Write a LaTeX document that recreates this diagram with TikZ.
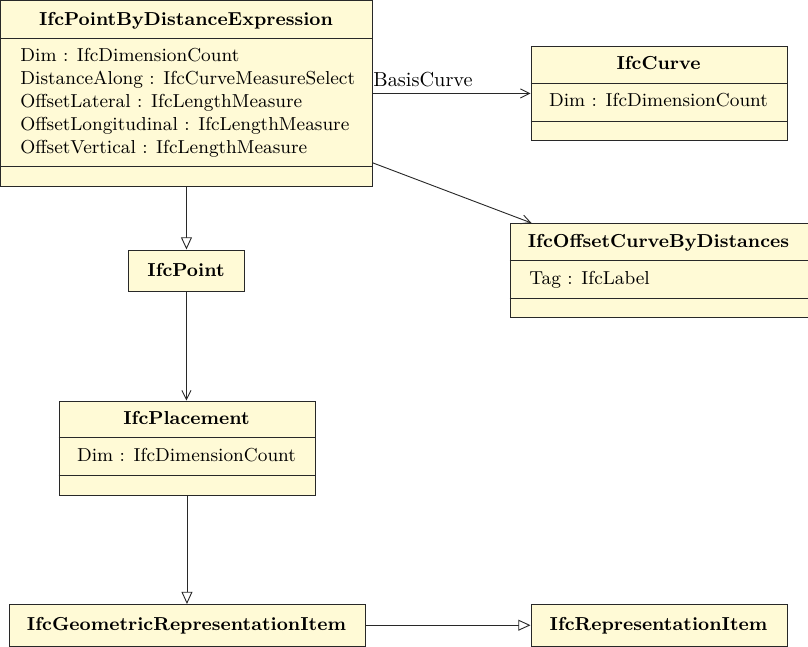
\documentclass[tikz,border=0pt]{standalone}
\usepackage{fontspec}
\setmainfont{Latin Modern Roman}
\usetikzlibrary{arrows.meta}
\definecolor{clsfill}{RGB}{255,250,214}
\definecolor{clsline}{RGB}{40,40,40}
\newlength\ux
\setlength\ux{0.4926pt}
\newcommand\clsfont{\fontsize{9.25}{11.3}\selectfont}
\tikzset{
  cls/.style={draw=clsline, fill=clsfill, line width=0.45pt, inner sep=0pt, anchor=north west, rectangle},
  sepline/.style={draw=clsline, line width=0.45pt},
  ttl/.style={font=\clsfont\bfseries, inner sep=0pt, anchor=base},
  att/.style={font=\clsfont, inner sep=0pt, anchor=base west},
  attc/.style={font=\clsfont, inner sep=0pt, anchor=base},
  conn/.style={draw=clsline, line width=0.45pt},
  assoc/.style={conn, -{Straight Barb[length=4.5pt,width=4.5pt,line width=0.45pt]}},
  gen/.style={conn, -{Triangle[open,length=6pt,width=5.4pt,fill=white,line width=0.45pt]}},
}
\begin{document}
\begin{tikzpicture}[x=\ux,y=-\ux]
\useasboundingbox (0,0) rectangle (808,646);
% IfcPointByDistanceExpression
\node[cls, minimum width=371.5\ux, minimum height=185.5\ux] (pbde) at (0.5,0.5) {};
\draw[sepline] (0.5,38) -- (372,38);
\draw[sepline] (0.5,166) -- (372,166);
\node[ttl] (pbdet) at (186,25) {IfcPointByDistanceExpression};
\node[att] (pbdea1) at (20,61.7) {Dim : IfcDimensionCount};
\node[att] (pbdea2) at (20,84.7) {DistanceAlong : IfcCurveMeasureSelect};
\node[att] (pbdea3) at (20,107.7) {OffsetLateral : IfcLengthMeasure};
\node[att] (pbdea4) at (20,130.7) {OffsetLongitudinal : IfcLengthMeasure};
\node[att] (pbdea5) at (20,153.7) {OffsetVertical : IfcLengthMeasure};
% IfcCurve
\node[cls, minimum width=256.5\ux, minimum height=94\ux] (curve) at (530.5,46) {};
\draw[sepline] (530.5,83.5) -- (787,83.5);
\draw[sepline] (530.5,121) -- (787,121);
\node[ttl] (curvet) at (658.5,69.5) {IfcCurve};
\node[attc] (curvea) at (658.5,106.7) {Dim : IfcDimensionCount};
% IfcOffsetCurveByDistances
\node[cls, minimum width=298\ux, minimum height=94\ux] (off) at (509.5,223) {};
\draw[sepline] (509.5,260) -- (807.5,260);
\draw[sepline] (509.5,298) -- (807.5,298);
\node[ttl] (offt) at (658.5,247.3) {IfcOffsetCurveByDistances};
\node[att] (offa) at (529,284.3) {Tag : IfcLabel};
% IfcPoint
\node[cls, minimum width=116\ux, minimum height=41.5\ux] (point) at (128,249.5) {};
\node[ttl] (pointt) at (186,276.7) {IfcPoint};
% IfcPlacement
\node[cls, minimum width=256\ux, minimum height=94\ux] (plac) at (58.5,400.5) {};
\draw[sepline] (58.5,437.5) -- (314.5,437.5);
\draw[sepline] (58.5,475.5) -- (314.5,475.5);
\node[ttl] (plact) at (186.5,424.3) {IfcPlacement};
\node[attc] (placa) at (186.5,461.7) {Dim : IfcDimensionCount};
% IfcGeometricRepresentationItem
\node[cls, minimum width=356\ux, minimum height=41.5\ux] (geo) at (8.5,604) {};
\node[ttl] (geot) at (186.5,630.5) {IfcGeometricRepresentationItem};
% IfcRepresentationItem
\node[cls, minimum width=256\ux, minimum height=41.5\ux] (rep) at (530.5,604) {};
\node[ttl] (rept) at (658.5,630.5) {IfcRepresentationItem};
% connectors
\draw[gen] (pbde.south -| point.north) -- (point.north);
\draw[assoc, line width=0.6pt] (point.south) -- (point.south |- plac.north);
\draw[gen] (plac.south -| geo.north) -- (geo.north -| plac.south);
\draw[gen] (geo.east) -- (rep.west);
\draw[assoc] (curve.west -| pbde.east) -- (curve.west);
\draw[assoc] ([yshift=24\ux]pbde.south east) -- ([xshift=22\ux]off.north west);
\node[font=\normalsize, inner sep=0pt, anchor=base west] (bclabel) at (373,86) {BasisCurve};
\end{tikzpicture}
\end{document}
